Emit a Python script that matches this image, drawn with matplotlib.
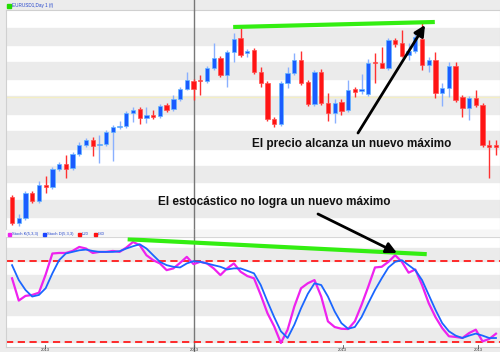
import matplotlib
matplotlib.use("Agg")
import matplotlib.pyplot as plt
from matplotlib.lines import Line2D
from matplotlib.patches import FancyArrowPatch, Rectangle
from matplotlib.transforms import IdentityTransform

plt.rcParams['font.family'] = ['Liberation Sans', 'DejaVu Sans']

# daily candles (price units)
opens = [53, 27, 32, 57, 49, 65, 63, 81, 86, 82, 96, 105, 110, 105, 106, 118, 123, 124, 137, 141,
         132, 135, 134, 145, 141, 151, 161, 169, 170, 169, 182, 192, 175, 198, 212, 197, 200, 178, 167, 131,
         126, 167, 177, 190, 168, 146, 178, 147, 137, 148, 140, 161, 159, 156, 188, 187, 182, 210, 207, 195,
         199, 211, 185, 190, 157, 162, 184, 153, 142, 152, 145, 105, 105]
closes = [27, 32, 57, 49, 65, 63, 81, 86, 81, 96, 105, 110, 104, 106, 118, 123, 124, 137, 140, 132,
          135, 133, 144, 140, 151, 161, 170, 161, 169, 182, 192, 175, 198, 211, 195, 199, 178, 167, 131, 126,
          167, 177, 190, 167, 146, 178, 147, 137, 147, 139, 160, 158, 161, 187, 187, 182, 210, 206, 194, 199,
          213, 185, 190, 157, 162, 184, 150, 142, 152, 145, 105, 103, 103]
highs = [55, 36, 59, 59, 69, 74, 83, 88, 95, 98, 108, 112, 113, 115, 120, 125, 129, 139, 143, 143,
         143, 140, 146, 147, 155, 163, 178, 171, 175, 184, 207, 194, 200, 217, 222, 201, 202, 183, 169, 133,
         169, 183, 197, 199, 170, 180, 181, 157, 151, 151, 170, 163, 176, 191, 197, 203, 212, 212, 220, 207,
         217, 227, 193, 198, 167, 188, 188, 155, 154, 160, 147, 110, 110]
lows = [25, 24, 30, 47, 47, 57, 61, 79, 72, 80, 94, 103, 94, 87, 104, 89, 121, 122, 128, 126,
        127, 131, 132, 138, 139, 149, 160, 150, 155, 167, 180, 173, 163, 188, 193, 193, 176, 163, 129, 123,
        124, 162, 175, 165, 144, 144, 145, 129, 127, 135, 138, 153, 156, 154, 167, 182, 180, 203, 193, 190,
        197, 180, 178, 152, 144, 153, 148, 133, 130, 143, 103, 72, 95]

# stochastic %K (magenta) and %D (blue)
stoch_k = [67.2, 50.6, 54.1, 54.8, 56.5, 70.0, 85.7, 86.1, 86.1, 87.6, 90.6, 89.4, 86.1, 86.9, 86.9,
           87.6, 86.9, 90.1, 94.3, 91.9, 84.4, 80.7, 78.3, 73.3, 74.6, 78.7, 83.2, 77.8, 79.5, 78.3,
           74.6, 69.6, 74.6, 78.3, 72.1, 68.9,
           67.2, 54.8, 41.2, 31.4, 19.0, 28.9, 46.2, 59.8, 63.5, 65.9, 53.6, 35.1, 30.9, 29.6, 29.4,
           35.1, 47.4, 61.0, 75.3, 75.8, 79.5, 84.4, 79.5, 71.4, 73.8, 62.2, 48.6, 38.3, 30.1, 24.0,
           23.5, 22.7, 26.4, 28.9, 20.2, 22.0, 25.9]
stoch_d = [77.0, 65.9, 58.5, 53.6, 54.8, 59.8, 70.9, 80.7, 85.7, 86.9, 88.1, 88.6, 87.6, 86.9, 86.9,
           86.9, 87.4, 89.4, 91.1, 92.6, 89.4, 84.4, 79.5, 77.0, 75.8, 75.3, 78.3, 80.0, 79.5, 78.3,
           77.0, 75.8, 73.8, 74.6, 74.6, 72.8,
           70.9, 62.2, 49.9, 38.3, 27.7, 22.7, 32.6, 44.9, 55.6, 63.5, 62.2, 53.6, 42.5, 33.8, 29.6,
           30.9, 38.3, 48.6, 58.5, 67.2, 75.3, 79.5, 80.7, 77.0, 73.3, 65.9, 54.8, 43.7, 33.8, 27.7,
           24.5, 22.7, 24.5, 26.0, 24.5, 22.7, 22.7]
levels = [20, 80]
date_ticks = [4.9, 27.1, 49.2, 69.3]
date_labels = ['2013', '2013', '2013', '2013']

W, H = 500, 352
fig = plt.figure(figsize=(5, 3.52), dpi=100, facecolor='#ececec')
ax1 = fig.add_axes([6 / W, 1 - 230 / H, 494 / W, 220 / H])
ax2 = fig.add_axes([6 / W, 1 - 347 / H, 494 / W, 110 / H])

xs = list(range(len(opens)))
xlim = (-0.9, 72.6)

# price panel
ax1.set_xlim(*xlim)
ax1.set_ylim(20, 240)
for lo, hi in [(205, 222), (171, 188), (136, 154), (101, 119), (68, 84), (33, 50)]:
    ax1.axhspan(lo, hi, color='#ebebeb', zorder=0)
ax1.axhline(153, color='#f4eec4', lw=1, zorder=0.5)
ax1.axvline(27.08, color='#777777', lw=1, zorder=0.8)
for i in xs:
    up = closes[i] >= opens[i]
    body = '#1a5cff' if up else '#ff1414'
    wick = '#8ab0ff' if up else '#ff3030'
    edge = '#66b8ff' if up else '#ff5050'
    ax1.vlines(i, lows[i], highs[i], color=wick, lw=1, zorder=1)
    lo = min(opens[i], closes[i])
    h = max(abs(closes[i] - opens[i]), 1)
    ax1.bar(i, h, bottom=lo, width=0.64, color=body, edgecolor=edge, lw=0.5, zorder=2)
ax1.plot([32.9, 62.9], [223, 228], color='#33ee11', lw=3, solid_capstyle='butt', zorder=3, clip_on=False)

# stochastic panel
ax2.set_xlim(*xlim)
ax2.set_ylim(16, 98)
for lo, hi in [(20, 30), (40, 50), (60, 70), (80, 90)]:
    ax2.axhspan(lo, hi, color='#ebebeb', zorder=0)
ax2.axvline(27.08, color='#777777', lw=1, zorder=0.8)
for lv in levels:
    ax2.axhline(lv, color='#ff1a1a', lw=1.3, ls=(0, (4, 2.5)), zorder=1)
ax2.plot(xs, stoch_k, color='#ee22ee', lw=1.6, zorder=2)
ax2.plot(xs, stoch_d, color='#1a66ff', lw=1.3, zorder=3)
ax2.plot([17.2, 61.7], [96.3, 85.2], color='#33ee11', lw=3, solid_capstyle='butt', zorder=4, clip_on=False)

for ax in (ax1, ax2):
    ax.set_xticks([])
    ax.set_yticks([])
    for s in ax.spines.values():
        s.set_color('#d0d0d0')
        s.set_linewidth(0.8)

# vertical separator through header and gaps
for y0, y1 in [(0, 10), (230, 237), (347, 352)]:
    fig.add_artist(Line2D([194, 194], [H - y0, H - y1], transform=IdentityTransform(),
                          color='#777777', lw=1))

# legends
fig.add_artist(Rectangle((7, H - 8), 4, 4, transform=IdentityTransform(), color='#22dd00'))
fig.text(12 / W, 1 - 6 / H, 'EURUSD1,Day 1 (f)', fontsize=3.3, color='#2244cc', va='center')
fig.add_artist(Rectangle((6, H - 236), W - 6, 6, transform=IdentityTransform(), color='#f6f6f6'))
leg = [(8, '#ee22ee', 'Stoch K(5,3,3)'), (43, '#1a44ff', 'Stoch D(5,3,3)'),
       (78, '#ff1111', 'L20'), (94, '#ff1111', 'L80')]
for px, c, t in leg:
    fig.add_artist(Rectangle((px, H - 235.5), 3, 3, transform=IdentityTransform(), color=c))
    fig.text((px + 4) / W, 1 - 234 / H, t, fontsize=3, color='#2244cc', va='center')

# date ticks
for xt, lab in zip(date_ticks, date_labels):
    px = 6 + (xt - xlim[0]) / (xlim[1] - xlim[0]) * 494
    fig.add_artist(Line2D([px, px], [H - 345, H - 347.5], transform=IdentityTransform(),
                          color='#555555', lw=0.6))
    fig.text(px / W, 1 - 350 / H, lab, fontsize=3, color='#333333', ha='center', va='center')

# annotations
fig.text(252 / W, 1 - 144 / H, 'El precio alcanza un nuevo máximo', fontsize=8.5,
         fontweight='bold', color='#111111', va='center')
fig.text(158 / W, 1 - 202 / H, 'El estocástico no logra un nuevo máximo', fontsize=8.5,
         fontweight='bold', color='#111111', va='center')
for (x0, y0), (x1, y1) in [((358, 133), (425, 25)), ((318, 214), (397, 253))]:
    fig.add_artist(FancyArrowPatch((x0, H - y0), (x1, H - y1), transform=IdentityTransform(),
                                   arrowstyle='-|>', mutation_scale=16, lw=2, color='black',
                                   shrinkA=0, shrinkB=0))

fig.savefig('out.png', dpi=100, facecolor=fig.get_facecolor())
